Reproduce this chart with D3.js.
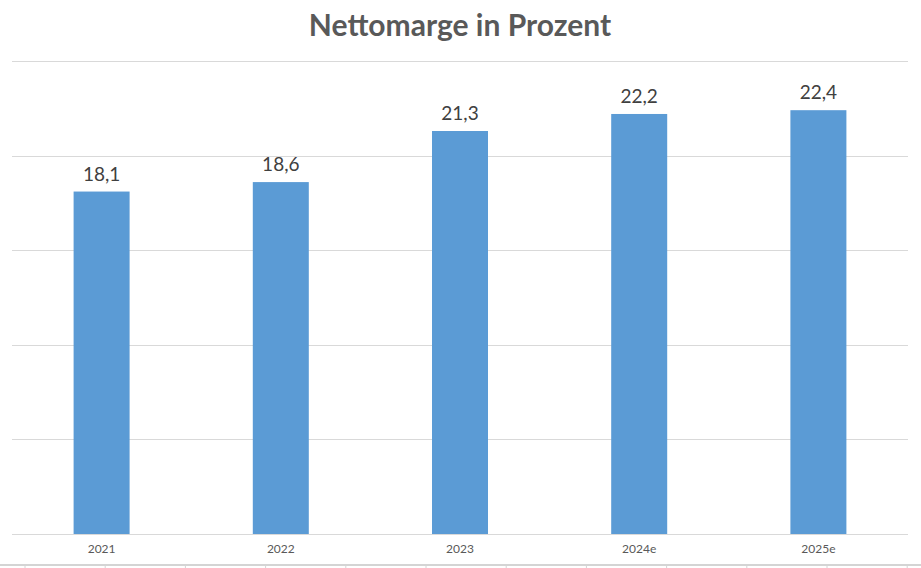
<!DOCTYPE html>
<html><head><meta charset="utf-8">
<script src="https://cdn.jsdelivr.net/npm/d3@7"></script>
<style>body{margin:0;background:#fff}svg{display:block}</style>
</head><body>
<svg id="c" width="921" height="568"></svg>
<script>
const categories = ["2021","2022","2023","2024e","2025e"];
const values = [18.1, 18.6, 21.3, 22.2, 22.4];
const valueLabels = ["18,1","18,6","21,3","22,2","22,4"];
const gridTicks = [0,5,10,15,20,25];
const title = "Nettomarge in Prozent";

const svg = d3.select("#c");
const x = d3.scaleBand().domain(categories).range([12, 908]).paddingInner(0.6875).paddingOuter(0.34375);
const y = d3.scaleLinear().domain([0,25]).range([534, 61]);

// spreadsheet artefact at bottom
svg.append("rect").attr("x",0).attr("y",564).attr("width",921).attr("height",2).attr("fill","#d4d4d4");
const cols = d3.range(12).map(i => 25 + i*80.2);
svg.selectAll("line.col").data(cols).join("line").attr("class","col")
  .attr("x1",d=>d).attr("x2",d=>d).attr("y1",566).attr("y2",568).attr("stroke","#d4d4d4");

// gridlines
svg.append("g").selectAll("line").data(gridTicks.filter(d=>d>0)).join("line")
  .attr("x1",12).attr("x2",908).attr("y1",d=>Math.round(y(d))+0.5).attr("y2",d=>Math.round(y(d))+0.5)
  .attr("stroke","#d9d9d9").attr("stroke-width",1);

// bars
svg.append("g").selectAll("rect").data(values).join("rect")
  .attr("x",(d,i)=>x(categories[i])).attr("width",x.bandwidth())
  .attr("y",d=>y(d)).attr("height",d=>y(0)-y(d)).attr("fill","#5b9bd5");

// axis baseline
svg.append("line").attr("x1",12).attr("x2",908).attr("y1",534.5).attr("y2",534.5).attr("stroke","#d9d9d9");

// value labels
svg.append("g").selectAll("text").data(values).join("text")
  .attr("x",(d,i)=>x(categories[i])+x.bandwidth()/2).attr("y",d=>y(d)-11)
  .attr("text-anchor","middle").attr("font-family","Lato, 'Open Sans', sans-serif")
  .attr("font-size",19).attr("fill","#404040").text((d,i)=>valueLabels[i]);

// category labels
const xAxis = d3.axisBottom(x).tickSize(0).tickPadding(10);
const gx = svg.append("g").attr("transform","translate(0,534)").call(xAxis);
gx.select(".domain").remove();
gx.selectAll("text").attr("font-family","Lato, 'Open Sans', sans-serif").attr("font-size",12).attr("fill","#595959");

// title
svg.append("text").attr("x",460).attr("y",36).attr("text-anchor","middle")
  .attr("font-family","Lato, 'Open Sans', sans-serif").attr("font-weight","bold")
  .attr("font-size",30).attr("fill","#595959").text(title);
</script>
</body></html>
